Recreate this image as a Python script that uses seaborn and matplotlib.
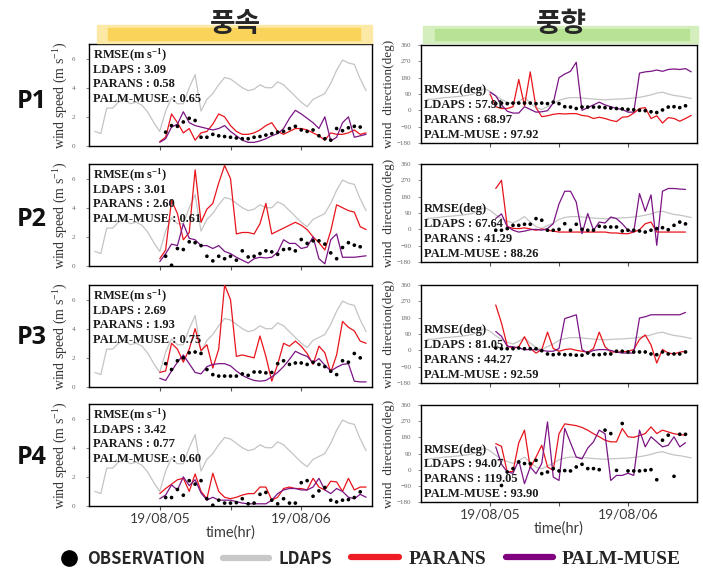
import numpy as np
import pandas as pd
import matplotlib
matplotlib.use("Agg")
import matplotlib.pyplot as plt
import seaborn as sns
from matplotlib.lines import Line2D
from matplotlib.patches import Rectangle

sns.set_style("ticks")
plt.rcParams["font.family"] = ["Liberation Serif", "DejaVu Sans"]
plt.rcParams["mathtext.default"] = "regular"

# ---------------- data ----------------
hours_ldaps = list(range(-11, 36))
hours_model = list(range(0, 36))
hours_obs = list(range(1, 35))

x_ticks = [0, 12, 24]
x_ticklabels = ["19/08/05", "", "19/08/06"]
ws_ticks = [0, 2, 4, 6]
wd_ticks = [-180, -90, 0, 90, 180, 270, 360]

points = ["P1", "P2", "P3", "P4"]

# wind speed (m/s)
ws_ldaps = [1.0, 0.85, 2.6, 2.6, 3.0, 3.2, 2.9, 3.0, 2.8, 2.3, 1.6,
            1.0, 2.4, 3.3, 2.9, 2.9, 4.0, 4.9, 2.4, 3.2, 3.6, 4.2, 4.7, 4.6, 4.3, 4.0, 3.8,
            3.9, 4.2, 4.0, 4.0, 4.4, 4.2, 3.8, 3.4, 3.0, 2.7, 3.2, 3.4, 3.6, 4.3, 5.2, 5.9,
            5.7, 5.6, 4.6, 3.8]

ws_obs_p1 = [0.95, 1.4, 1.35, 1.65, 1.9, 1.75, 0.6, 0.6, 0.8, 0.7, 0.65, 0.6, 0.55, 0.5, 0.5,
             0.6, 0.65, 0.75, 0.85, 0.95, 1.0, 1.2, 1.35, 1.1, 1.0, 1.1, 0.7, 0.5, 0.4, 1.2,
             1.05, 1.25, 1.35, 1.3]
ws_parans_p1 = [0.3, 0.6, 2.2, 1.6, 0.9, 1.2, 0.4, 0.9, 1.0, 1.5, 2.2, 2.0, 1.4, 1.0, 0.8, 0.8,
                0.9, 1.1, 1.4, 1.6, 1.0, 0.8, 1.0, 1.2, 1.2, 1.1, 0.9, 0.7, 0.4, 0.9, 0.8, 0.8,
                0.9, 1.1, 0.8, 0.9]
ws_palm_p1 = [0.25, 0.5, 1.3, 1.5, 2.35, 1.6, 1.4, 1.3, 1.2, 1.1, 1.2, 1.4, 1.0, 0.7, 0.4, 0.25,
              0.25, 0.35, 0.5, 0.7, 0.85, 1.2, 1.9, 2.45, 2.2, 1.9, 1.6, 1.2, 2.0, 0.35, 0.6,
              1.6, 2.0, 0.6, 0.7, 0.8]

ws_obs_p2 = [0.67, 0.05, 1.2, 1.13, 1.66, 1.6, 1.4, 0.67, 0.35, 0.67, 0.5, 0.67, 0.4, 1.04,
             0.62, 0.67, 0.85, 1.04, 0.97, 0.8, 1.13, 1.18, 1.04, 1.82, 1.55, 1.73, 1.73, 1.5,
             0.9, 0.5, 1.27, 1.6, 1.43, 1.32]
ws_parans_p2 = [0.5, 1.1, 4.5, 3.6, 1.8, 2.3, 6.6, 3.0, 3.9, 4.3, 5.7, 6.9, 6.0, 2.2, 2.3, 2.3,
                2.2, 2.9, 4.3, 2.2, 2.4, 2.6, 2.8, 3.0, 2.8, 2.5, 2.0, 1.6, 1.1, 2.4, 4.2, 4.0,
                3.8, 3.7, 2.7, 2.5]
ws_palm_p2 = [0.3, 0.85, 1.5, 1.4, 2.9, 1.9, 1.8, 1.4, 1.4, 1.2, 1.4, 1.0, 0.85, 0.6, 0.4, 0.2,
              0.5, 0.6, 0.55, 0.6, 0.95, 1.8, 1.55, 1.55, 1.2, 1.3, 2.0, 0.5, 0.15, 1.8, 2.2,
              0.6, 0.6, 0.6, 0.65, 0.7]

ws_obs_p3 = [1.6, 1.2, 1.8, 2.0, 2.35, 2.4, 2.3, 1.2, 0.85, 0.75, 0.75, 0.75, 0.75, 0.9, 0.8,
             1.03, 1.03, 0.97, 1.0, 1.6, 1.8, 1.55, 1.65, 1.65, 1.55, 1.7, 1.55, 1.4, 1.08,
             0.85, 1.8, 1.7, 2.3, 2.0]
ws_parans_p3 = [1.0, 1.1, 3.0, 2.6, 1.7, 2.6, 4.0, 2.5, 2.9, 1.3, 2.6, 7.0, 6.0, 2.1, 2.2, 2.1,
                2.0, 3.5, 2.1, 0.4, 1.55, 3.0, 2.8, 3.15, 2.8, 2.3, 1.55, 2.8, 2.35, 1.0, 2.2,
                4.5, 4.1, 3.85, 3.15, 3.0]
ws_palm_p3 = [0.6, 0.45, 1.1, 1.7, 2.2, 1.6, 1.0, 0.9, 1.4, 1.55, 1.6, 1.6, 1.45, 1.1, 0.8, 0.6,
              0.45, 0.4, 0.45, 0.7, 1.0, 1.4, 1.9, 2.45, 2.25, 2.1, 1.65, 1.95, 1.5, 1.1, 1.35,
              1.55, 1.6, 0.4, 0.35, 0.35]

ws_obs_p4 = [0.58, 0.58, 1.13, 0.74, 1.74, 1.5, 1.74, 0.5, 0.05, 0.4, 0.2, 0.2, 0.23, 0.5, 0.15,
             0.2, 0.8, 0.93, 0.4, 0.15, 0.5, 0.2, 0.2, 1.6, 1.74, 0.67, 1.04, 1.27, 0.4, 0.28,
             0.4, 0.44, 0.58, 0.97]
ws_parans_p4 = [0.85, 1.2, 1.5, 1.8, 1.9, 1.0, 2.2, 1.0, 0.5, 2.25, 1.0, 0.6, 0.5, 0.6, 0.75,
                0.85, 0.85, 1.3, 1.3, 0.4, 0.6, 1.2, 1.3, 1.2, 1.2, 1.1, 1.9, 1.3, 1.1, 1.7,
                1.65, 1.0, 1.9, 1.1, 1.3, 1.3]
ws_palm_p4 = [0.5, 0.75, 1.45, 1.1, 2.0, 1.4, 1.8, 0.9, 0.4, 0.6, 0.4, 0.4, 0.4, 0.3, 0.2, 0.15,
              0.15, 0.15, 0.15, 0.4, 0.85, 1.1, 1.2, 1.2, 1.1, 1.1, 1.3, 1.9, 1.1, 0.85, 1.2,
              1.0, 0.6, 0.5, 0.8, 0.6]

# wind direction (deg)
wd_ldaps = [60, 62, 65, 70, 72, 75, 78, 82, 88, 100, 120,
            105, 80, 60, 45, 35, 50, 70, 40, 15, 5, 20, 35, 55, 65, 70, 70, 68, 65, 62, 60,
            58, 60, 62, 63, 65, 68, 72, 78, 85, 95, 100, 90, 82, 78, 72, 65]

wd_obs_p1 = [37, 40, 37, 40, 40, 40, 40, 37, 40, 37, 45, 37, 20, 18, 10, 18, 18, 18, 18, 15,
             12, 10, 8, 5, 3, 0, -2, -8, -12, 2, 18, 20, 15, 25]
wd_parans_p1 = [90, 20, 10, 10, 20, 170, 25, 212, 15, -35, -30, -22, -18, -20, -18, -18, -28,
                -32, -45, -38, -45, -55, -62, -38, -35, -15, 10, 15, -45, -30, -70, -40, -45,
                -60, -45, -28]
wd_palm_p1 = [100, 80, 30, -5, -15, -15, 20, 5, -10, -8, -2, 40, 180, 200, 215, 265, 0, 15, 30,
              45, 30, 20, 10, 5, -10, -10, 205, 212, 215, 222, 215, 225, 228, 225, 230, 212]

wd_obs_p2 = [-5, -5, 4, 22, 22, 28, 28, 59, 50, -5, -5, 0, 31, -5, 28, 0, -5, -5, 17, 13, 13,
             13, -9, -5, -5, -9, -15, -5, 4, 9, -2, 22, 40, 30]
wd_parans_p2 = [np.nan, 225, 270, 15, 5, 4, 8, 2, -5, 2, -5, -10, -15, -15, -15, -15, -15, -15,
                -15, -15, -15, -20, -20, -24, -24, -15, -2, 31, 40, -15, -15, -15, -15, -15,
                -15, np.nan]
wd_palm_p2 = [np.nan, 60, 85, 15, -5, -15, -10, -2, 0, -5, 4, 31, 140, 210, 210, 150, -24, 87,
              -5, 40, 35, 68, 59, 31, -5, -15, 197, 100, 190, -88, 210, 225, 225, 222, 220,
              np.nan]

wd_obs_p3 = [13, 9, 9, 9, 13, 9, 9, 9, -2, -20, -24, -20, -24, -24, -27, -27, -15, -24, -24,
             -20, -20, -5, -5, -9, -9, -9, -9, -20, -24, -9, -20, -20, -20, -9]
wd_parans_p3 = [np.nan, 250, 150, 25, 10, 20, 75, 10, -15, 4, 100, 10, -5, 4, 8, 0, -5, -10, 10,
                100, 20, -9, -9, -9, -5, 4, 60, 85, 30, -70, 5, -15, -20, -10, -5, np.nan]
wd_palm_p3 = [np.nan, 104, 77, 22, 20, 13, 4, 4, 4, 0, -5, -5, 10, 175, 185, 196, 4, -15, 0, 4,
              4, 0, -10, -15, -15, -15, 178, 185, 196, 196, 196, 196, 196, 196, 209, np.nan]

wd_obs_p4 = [np.nan, -88, -13, 6, 43, 34, 34, 52, -22, -13, 6, -7, -5, -7, 15, 30, 6, 6, 0,
             220, 201, -4, 257, -7, -7, -7, -4, 0, -56, 164, 192, -37, 197, 197]
wd_parans_p4 = [np.nan, 145, 130, -13, -10, 150, 220, 10, 70, 136, 15, -4, 200, 255, 250, 245,
                235, 220, 200, 183, 164, 155, 155, 229, 183, 180, 190, 201, 238, 201, 220, 210,
                200, 195, 192, np.nan]
wd_palm_p4 = [np.nan, 127, 30, -13, -20, 52, -78, 15, -22, 34, 266, -41, -60, 230, 150, 70, 60,
              120, 155, 220, 200, -60, -32, -32, -20, -32, 220, 127, 183, 155, 127, 136, 183,
              127, 150, np.nan]

ws_rmse = {"P1": ("3.09", "0.58", "0.65"), "P2": ("3.01", "2.60", "0.61"),
           "P3": ("2.69", "1.93", "0.75"), "P4": ("3.42", "0.77", "0.60")}
wd_rmse = {"P1": ("57.91", "68.97", "97.92"), "P2": ("67.64", "41.29", "88.26"),
           "P3": ("81.05", "44.27", "92.59"), "P4": ("94.07", "119.05", "93.90")}

ws_series = {"P1": (ws_obs_p1, ws_parans_p1, ws_palm_p1), "P2": (ws_obs_p2, ws_parans_p2, ws_palm_p2),
             "P3": (ws_obs_p3, ws_parans_p3, ws_palm_p3), "P4": (ws_obs_p4, ws_parans_p4, ws_palm_p4)}
wd_series = {"P1": (wd_obs_p1, wd_parans_p1, wd_palm_p1), "P2": (wd_obs_p2, wd_parans_p2, wd_palm_p2),
             "P3": (wd_obs_p3, wd_parans_p3, wd_palm_p3), "P4": (wd_obs_p4, wd_parans_p4, wd_palm_p4)}

legend_labels = ["OBSERVATION", "LDAPS", "PARANS", "PALM-MUSE"]

# ---------------- style ----------------
C_LDAPS = "#c4c4c4"
C_PARANS = "#e8141c"
C_PALM = "#7b1585"
C_OBS = "black"

W, H = 703, 579
fig = plt.figure(figsize=(W / 100, H / 100), dpi=100)


def fx(px):
    return px / W


def fy(py):
    return 1 - py / H


left_rows = [(44, 146), (164, 266), (285, 387), (404, 506)]
right_rows = [(45, 143), (164, 262), (285, 383), (405, 502)]
LX0, LX1 = 89, 372
RX0, RX1 = 421, 697
p_label_y = [101, 219, 338, 458]


def style_axes(ax):
    for s in ax.spines.values():
        s.set_color("black")
        s.set_linewidth(1.0)
    ax.set_xlim(-12, 36)
    ax.set_xticks(x_ticks)
    ax.tick_params(axis="x", length=3, width=0.8, color="#555555", pad=2,
                   labelsize=10, labelcolor="#3a3a3a")
    ax.tick_params(axis="y", length=2, width=0.6, color="#777777",
                   labelsize=5, labelcolor="#666666")
    ax.set_xlabel("")


def draw_panel(ax, ldaps, obs, parans, palm):
    sns.lineplot(x=hours_ldaps, y=ldaps, ax=ax, color=C_LDAPS, lw=0.9, estimator=None, zorder=2)
    sns.lineplot(x=hours_model, y=parans, ax=ax, color=C_PARANS, lw=0.9, estimator=None, zorder=3)
    sns.lineplot(x=hours_model, y=palm, ax=ax, color=C_PALM, lw=0.9, estimator=None, zorder=3)
    sns.scatterplot(x=hours_obs, y=obs, ax=ax, color=C_OBS, s=7, marker="o",
                    edgecolor="none", zorder=4)


for i, p in enumerate(points):
    # ---- wind speed ----
    t, b = left_rows[i]
    axl = fig.add_axes([fx(LX0), fy(b), fx(LX1) - fx(LX0), (b - t) / H])
    obs, par, palm = ws_series[p]
    draw_panel(axl, ws_ldaps, obs, par, palm)
    style_axes(axl)
    axl.set_ylim(0, 7)
    axl.set_yticks(ws_ticks)
    axl.tick_params(axis="y", pad=8)
    axl.set_ylabel("wind speed (m s$^{-1}$)", fontsize=10, color="#333333", labelpad=1)
    r = ws_rmse[p]
    lines = ["RMSE(m s$^{-1}$)", f"LDAPS : {r[0]}", f"PARANS : {r[1]}", f"PALM-MUSE : {r[2]}"]
    for k, txt in enumerate(lines):
        axl.text(0.014, 0.89 - k * 0.143, txt, transform=axl.transAxes, fontsize=9,
                 fontweight="bold", color="#1a1a1a", va="center", ha="left", zorder=6)

    # ---- wind direction ----
    t, b = right_rows[i]
    axr = fig.add_axes([fx(RX0), fy(b), fx(RX1) - fx(RX0), (b - t) / H])
    obs, par, palm = wd_series[p]
    draw_panel(axr, wd_ldaps, obs, par, palm)
    style_axes(axr)
    axr.set_ylim(-180, 360)
    axr.set_yticks(wd_ticks)
    axr.tick_params(axis="y", pad=5)
    axr.set_ylabel("wind  direction(deg)", fontsize=9.5, color="#333333", labelpad=1)
    r = wd_rmse[p]
    lines = ["RMSE(deg)", f"LDAPS : {r[0]}", f"PARANS : {r[1]}", f"PALM-MUSE : {r[2]}"]
    for k, txt in enumerate(lines):
        axr.text(0.01, 0.54 - k * 0.153, txt, transform=axr.transAxes, fontsize=9,
                 fontweight="bold", color="#1a1a1a", va="center", ha="left", zorder=6)

    for ax in (axl, axr):
        if i == 3:
            ax.set_xticklabels(x_ticklabels, family=["Lato", "DejaVu Sans"])
            ax.set_xlabel("time(hr)", fontsize=10.5, family=["Lato", "DejaVu Sans"],
                          color="#3a3a3a", labelpad=0)
        else:
            ax.set_xticklabels([])

    fig.text(fx(32), fy(p_label_y[i]), p, fontsize=18, fontweight="bold",
             family=["Open Sans", "DejaVu Sans"], ha="center", va="center", color="#111111")

# ---- column headers with highlight bars ----
fig.patches.append(Rectangle((fx(97), fy(43)), fx(372) - fx(97), (43 - 25) / H,
                             transform=fig.transFigure, color="#fde9a6", zorder=0))
fig.patches.append(Rectangle((fx(108), fy(40)), fx(360) - fx(108), (40 - 28) / H,
                             transform=fig.transFigure, color="#f9d35a", zorder=0))
fig.patches.append(Rectangle((fx(423), fy(43)), fx(698) - fx(423), (43 - 26) / H,
                             transform=fig.transFigure, color="#d4efbd", zorder=0))
fig.patches.append(Rectangle((fx(435), fy(40)), fx(689) - fx(435), (40 - 29) / H,
                             transform=fig.transFigure, color="#b8e294", zorder=0))
fig.text(fx(235), fy(24), "풍속", fontsize=20, fontweight="black",
         family=["Noto Sans CJK KR", "DejaVu Sans"], ha="center", va="center", zorder=5)
fig.text(fx(561), fy(24), "풍향", fontsize=20, fontweight="black",
         family=["Noto Sans CJK KR", "DejaVu Sans"], ha="center", va="center", zorder=5)

# ---- legend (one legend per entry so each can be placed) ----
legend_handles = [
    Line2D([], [], color="black", marker="o", linestyle="none", markersize=11),
    Line2D([], [], color="#c8c8c8", lw=4.5),
    Line2D([], [], color="#ee1c24", lw=4.5),
    Line2D([], [], color="#800080", lw=4.5),
]
# (left edge px, font family, size, handlelength, handletextpad)
legend_layout = [
    (61, ["Noto Sans CJK KR", "DejaVu Sans"], 12, 1.0, 0.58),
    (223, ["Noto Sans CJK KR", "DejaVu Sans"], 12, 2.75, 0.6),
    (351, ["Liberation Serif", "DejaVu Serif"], 14, 2.47, 0.52),
    (506, ["Liberation Serif", "DejaVu Serif"], 14, 2.42, 0.46),
]
for h, lab, (lx, fam, fs, hl, htp) in zip(legend_handles, legend_labels, legend_layout):
    fig.legend([h], [lab], loc="center left", bbox_to_anchor=(fx(lx), fy(559)),
               frameon=False, borderpad=0, borderaxespad=0, handlelength=hl,
               handletextpad=htp, prop={"family": fam, "size": fs, "weight": "bold"})

fig.savefig("out.png", dpi=100)
